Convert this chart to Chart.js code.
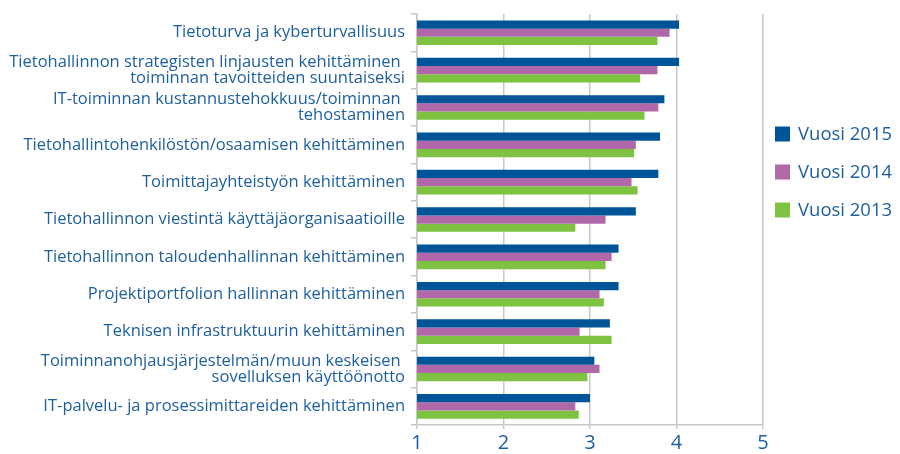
<html lang="fi">
<head>
  <meta charset="utf-8">
  <title>Tietohallinnon kehittämiskohteet</title>
  <style>
    body { margin: 0; background: #fff; }
    #wrap { width: 900px; height: 454px; }
  </style>
</head>
<body>
  <div id="wrap">
    <canvas id="myChart"></canvas>
  </div>
  <script src="https://cdn.jsdelivr.net/npm/chart.js"></script>
  <script>
    const categories = [
      'Tietoturva ja kyberturvallisuus',
      ['Tietohallinnon strategisten linjausten kehittäminen ', 'toiminnan tavoitteiden suuntaiseksi'],
      ['IT-toiminnan kustannustehokkuus/toiminnan ', 'tehostaminen'],
      'Tietohallintohenkilöstön/osaamisen kehittäminen',
      'Toimittajayhteistyön kehittäminen',
      'Tietohallinnon viestintä käyttäjäorganisaatioille',
      'Tietohallinnon taloudenhallinnan kehittäminen',
      'Projektiportfolion hallinnan kehittäminen',
      'Teknisen infrastruktuurin kehittäminen',
      ['Toiminnanohjausjärjestelmän/muun keskeisen ', 'sovelluksen käyttöönotto'],
      'IT-palvelu- ja prosessimittareiden kehittäminen'
    ]
    const vuosi2015 = [4.03, 4.03, 3.86, 3.81, 3.79, 3.53, 3.33, 3.33, 3.23, 3.05, 3.00]
    const vuosi2014 = [3.92, 3.78, 3.79, 3.53, 3.48, 3.18, 3.25, 3.11, 2.88, 3.11, 2.83]
    const vuosi2013 = [3.78, 3.58, 3.63, 3.51, 3.55, 2.83, 3.18, 3.16, 3.25, 2.97, 2.87]
    const xTicks = [1, 2, 3, 4, 5]

    const textBlue = '#1d5f9e'
    const font = '"Open Sans", "DejaVu Sans", sans-serif'

    // legend drawn on the right, next to the plot
    const sideLegend = {
      id: 'sideLegend',
      afterDraw(chart) {
        const ctx = chart.ctx
        ctx.save()
        ctx.font = '18.5px ' + font
        ctx.textBaseline = 'middle'
        chart.data.datasets.forEach((ds, i) => {
          const y = 134 + i * 38
          ctx.fillStyle = ds.backgroundColor
          ctx.fillRect(775, y - 7.5, 15, 15)
          ctx.fillStyle = textBlue
          ctx.fillText(ds.label, 798, y + 1)
        })
        ctx.restore()
      }
    }

    const ctx = document.getElementById('myChart')
    new Chart(ctx, {
      type: 'bar',
      data: {
        labels: categories,
        datasets: [
          { label: 'Vuosi 2015', data: vuosi2015, backgroundColor: '#005599' },
          { label: 'Vuosi 2014', data: vuosi2014, backgroundColor: '#b068a8' },
          { label: 'Vuosi 2013', data: vuosi2013, backgroundColor: '#7ec242' }
        ]
      },
      options: {
        indexAxis: 'y',
        responsive: true,
        maintainAspectRatio: false,
        animation: false,
        layout: { padding: { top: 10, right: 137, left: 0, bottom: 0 } },
        datasets: { bar: { barPercentage: 1, categoryPercentage: 0.66 } },
        plugins: {
          legend: { display: false },
          tooltip: { enabled: false }
        },
        scales: {
          x: {
            min: 1,
            max: 5,
            afterBuildTicks: (scale) => { scale.ticks = xTicks.map(v => ({ value: v })) },
            afterFit: (scale) => { scale.height = 29 },
            grid: { color: '#c8c8c8', lineWidth: 1.5, tickLength: 4 },
            border: { color: '#c8c8c8', width: 1.5 },
            ticks: { color: textBlue, padding: 2, font: { family: font, size: 20 } }
          },
          y: {
            afterFit: (scale) => { scale.width = 417 },
            grid: { drawOnChartArea: false, color: '#c8c8c8', lineWidth: 1.5, tickLength: 6 },
            border: { color: '#c8c8c8', width: 1.5 },
            ticks: { color: textBlue, padding: 6, font: { family: font, size: 16.5, lineHeight: 0.98 } }
          }
        }
      },
      plugins: [sideLegend]
    })
  </script>
</body>
</html>
